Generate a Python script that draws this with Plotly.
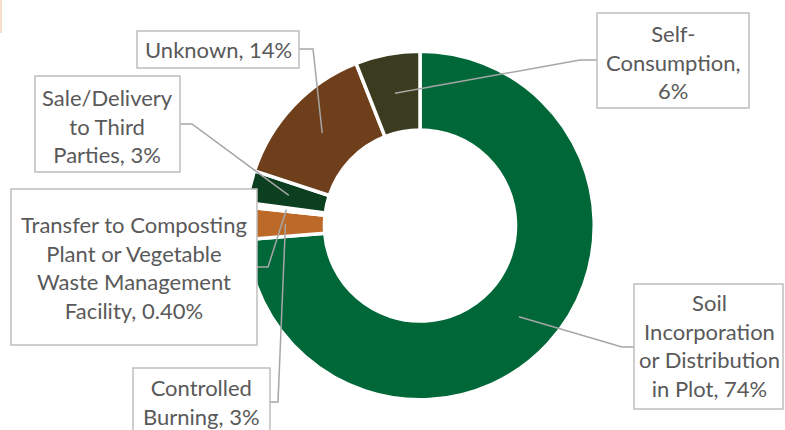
import math
import plotly.graph_objects as go

# Destination of crop residues (share of respondents, %)
categories = [
    "Soil Incorporation or Distribution in Plot",
    "Controlled Burning",
    "Transfer to Composting Plant or Vegetable Waste Management Facility",
    "Sale/Delivery to Third Parties",
    "Unknown",
    "Self-Consumption",
]
values = [74, 3, 0.4, 3, 14, 6]
label_texts = [
    "Soil<br>Incorporation<br>or Distribution<br>in Plot, 74%",
    "Controlled<br>Burning, 3%",
    "Transfer to Composting<br>Plant or Vegetable<br>Waste Management<br>Facility, 0.40%",
    "Sale/Delivery<br>to Third<br>Parties, 3%",
    "Unknown, 14%",
    "Self-<br>Consumption,<br>6%",
]
colors = ["#006838", "#BD6A29", "#FFFFFF", "#0B3F1F", "#6E3F1A", "#3B3C1F"]

W, H = 785, 430
CX, CY = 420, 225.5          # donut centre in px
R_OUT, R_IN = 172.5, 97.3    # visible outer / inner radius in px
GAP = 3.5                    # white separator width
ANCHOR_R = 0.78              # leader-line anchor, fraction of outer radius


def px(x):
    return x / W


def py(y):
    return 1 - y / H


r_dom = R_OUT + GAP / 2
hole = (R_IN - GAP / 2) / r_dom

fig = go.Figure(
    go.Pie(
        labels=categories,
        values=values,
        sort=False,
        direction="clockwise",
        rotation=0,
        hole=hole,
        marker=dict(colors=colors, line=dict(color="#FFFFFF", width=GAP)),
        textinfo="none",
        hoverinfo="label+percent",
        domain=dict(
            x=[px(CX - r_dom), px(CX + r_dom)],
            y=[py(CY + r_dom), py(CY - r_dom)],
        ),
        showlegend=False,
    )
)

# label boxes: (left, top, right, bottom) in px, text centre, elbow points
boxes = [
    dict(box=(634, 284, 783, 409), text_c=(709.5, 345), elbow=[(622, 347), (634, 347)]),
    dict(box=(133, 368, 270, 445), text_c=(201.5, 402), elbow=[(278, 402), (270, 402)]),
    dict(box=(11, 189, 257, 345), text_c=(134, 267), elbow=[(268, 267), (257, 267)]),
    dict(box=(35, 76, 180, 172), text_c=(107.5, 126), elbow=[(192, 124), (180, 124)]),
    dict(box=(137, 31, 299, 68), text_c=(218, 49.5), elbow=[(313, 49), (299, 49)]),
    dict(box=(597, 13, 749, 108), text_c=(673, 62), elbow=[(580, 60), (597, 60)]),
]

total = sum(values)
shapes = []
annotations = []
cum = 0.0
for val, txt, b in zip(values, label_texts, boxes):
    mid = (cum + val / 2) / total * 2 * math.pi
    cum += val
    ax = CX + ANCHOR_R * R_OUT * math.sin(mid)
    ay = CY - ANCHOR_R * R_OUT * math.cos(mid)
    pts = [(ax, ay)] + b["elbow"]
    path = "M " + " L ".join(f"{px(x):.5f},{py(y):.5f}" for x, y in pts)
    shapes.append(dict(type="path", xref="paper", yref="paper", path=path,
                       line=dict(color="#A6A6A6", width=1.5)))
    l, t, r, btm = b["box"]
    shapes.append(dict(type="rect", xref="paper", yref="paper",
                       x0=px(l), x1=px(r), y0=py(btm), y1=py(t),
                       line=dict(color="#BFBFBF", width=1.5), fillcolor="#FFFFFF",
                       layer="above"))
    annotations.append(dict(
        x=px(b["text_c"][0]), y=py(b["text_c"][1]), xref="paper", yref="paper",
        text=txt, showarrow=False, align="center",
        xanchor="center", yanchor="middle",
        font=dict(family="Lato", size=22, color="#595959"),
    ))

# thin accent strip at the top-left corner
shapes.append(dict(type="rect", xref="paper", yref="paper",
                   x0=0, x1=px(2), y0=py(33), y1=1,
                   line=dict(width=0), fillcolor="#F6DDCC"))

fig.update_layout(
    width=W, height=H,
    margin=dict(l=0, r=0, t=0, b=0),
    paper_bgcolor="#FFFFFF",
    plot_bgcolor="#FFFFFF",
    shapes=shapes,
    annotations=annotations,
)

fig.write_html("out.html")
